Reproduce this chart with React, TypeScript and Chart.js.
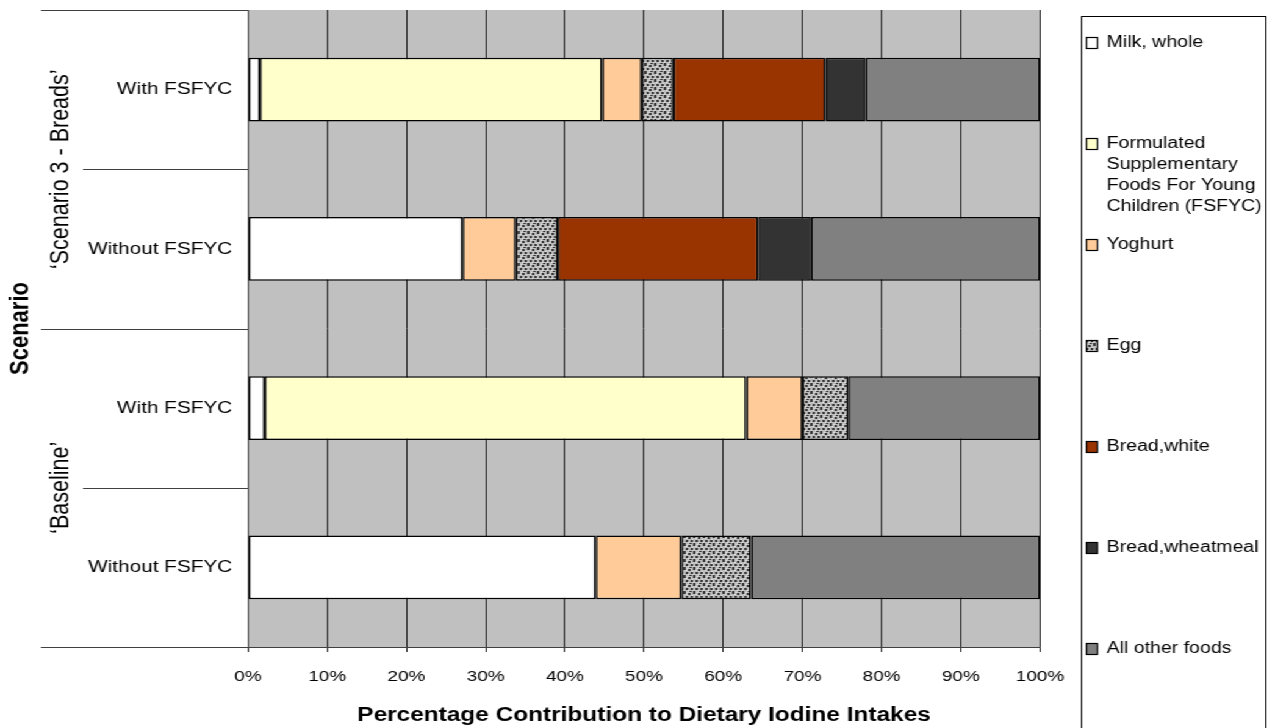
import React, { useEffect, useRef } from "react";
import { Chart, registerables } from "chart.js";

Chart.register(...registerables);

// The chart is laid out on a 1045px-wide canvas and shown stretched to 1275px.
const CANVAS_W = 1045;
const CANVAS_H = 728;
const STRETCH = 1275 / CANVAS_W;

const FONT = "'Liberation Sans', Arial, Helvetica, sans-serif";

// Rows, top to bottom
const categories = ["With FSFYC", "Without FSFYC", "With FSFYC", "Without FSFYC"];
const groupNames = ["\u2018Scenario 3 - Breads\u2019", "\u2018Baseline\u2019"];
const groupSizes = [2, 2];

// Percentage contribution of each food to dietary iodine intake
const milkWhole = [1.5, 27.1, 2.1, 43.9];
const fsfyc = [43.2, 0, 60.8, 0];
const yoghurt = [5.0, 6.7, 7.1, 10.8];
const egg = [4.0, 5.3, 5.8, 8.8];
const breadWhite = [19.2, 25.3, 0, 0];
const breadWheatmeal = [5.1, 6.7, 0, 0];
const allOtherFoods = [22.0, 28.9, 24.2, 36.5];

const seriesNames = [
  "Milk, whole",
  "Formulated Supplementary Foods For Young Children (FSFYC)",
  "Yoghurt",
  "Egg",
  "Bread,white",
  "Bread,wheatmeal",
  "All other foods",
];
const seriesValues = [milkWhole, fsfyc, yoghurt, egg, breadWhite, breadWheatmeal, allOtherFoods];
const seriesColors = ["#FFFFFF", "#FFFFCC", "#FFCC99", "pattern", "#993300", "#333333", "#808080"];

const xMin = 0;
const xMax = 100;
const xStep = 10;
const xTitle = "Percentage Contribution to Dietary Iodine Intakes";
const yTitle = "Scenario";

// speckled grey fill used for the egg series
function makeEggPattern(ctx: CanvasRenderingContext2D): CanvasPattern | string {
  const tile = document.createElement("canvas");
  tile.width = 8;
  tile.height = 8;
  const g = tile.getContext("2d");
  if (!g) return "#a0a0a0";
  g.fillStyle = "#bdbdbd";
  g.fillRect(0, 0, 8, 8);
  g.fillStyle = "#e4e4e4";
  [[3, 0], [7, 3], [0, 6], [4, 6], [2, 2], [6, 7]].forEach(([x, y]) => g.fillRect(x, y, 1, 1));
  g.fillStyle = "#383838";
  [[0, 0], [4, 1], [2, 4], [6, 4], [0, 7], [5, 7]].forEach(([x, y]) => g.fillRect(x, y, 2, 2));
  return ctx.createPattern(tile, "repeat") || "#a0a0a0";
}

function wrapText(ctx: CanvasRenderingContext2D, text: string, maxWidth: number): string[] {
  const words = text.split(" ");
  const lines: string[] = [];
  let cur = "";
  for (const w of words) {
    const test = cur ? cur + " " + w : w;
    if (cur && ctx.measureText(test).width > maxWidth) {
      lines.push(cur);
      cur = w;
    } else {
      cur = test;
    }
  }
  if (cur) lines.push(cur);
  return lines;
}

const decorPlugin = {
  id: "decor",
  beforeDraw(chart: any) {
    const { ctx, chartArea: a } = chart;
    ctx.save();
    ctx.fillStyle = "#C0C0C0";
    ctx.fillRect(a.left, a.top, a.right - a.left, a.bottom - a.top);
    ctx.restore();
  },
  afterDraw(chart: any) {
    const { ctx, chartArea: a } = chart;
    const yScale = chart.scales.y;
    const n = categories.length;
    const bound = (i: number) =>
      i === 0 ? a.top : i === n ? a.bottom : (yScale.getPixelForValue(i - 1) + yScale.getPixelForValue(i)) / 2;

    const groupEdges = [0];
    let acc = 0;
    groupSizes.forEach((s) => {
      acc += s;
      groupEdges.push(acc);
    });

    ctx.save();
    // category divider lines to the left of the plot
    ctx.strokeStyle = "#404040";
    ctx.lineWidth = 1;
    for (let i = 0; i <= n; i++) {
      const outer = groupEdges.includes(i);
      const x0 = outer ? 33.6 : 68;
      const yy = Math.round(bound(i)) + 0.5;
      ctx.beginPath();
      ctx.moveTo(x0, yy);
      ctx.lineTo(a.left, yy);
      ctx.stroke();
    }

    // group labels, rotated
    ctx.fillStyle = "#000";
    ctx.textAlign = "center";
    ctx.textBaseline = "middle";
    ctx.font = `21.5px ${FONT}`;
    groupNames.forEach((name, gi) => {
      const yc = (bound(groupEdges[gi]) + bound(groupEdges[gi + 1])) / 2;
      ctx.save();
      ctx.translate(50.5, yc);
      ctx.rotate(-Math.PI / 2);
      ctx.fillText(name, 0, 0);
      ctx.restore();
    });

    // y-axis title
    ctx.font = `bold 22px ${FONT}`;
    ctx.save();
    ctx.translate(16.5, (a.top + a.bottom) / 2);
    ctx.rotate(-Math.PI / 2);
    ctx.fillText(yTitle, 0, 0);
    ctx.restore();

    // x-axis title
    ctx.font = `bold 20px ${FONT}`;
    ctx.fillText(xTitle, (a.left + a.right) / 2, 715);

    // legend
    const lx = 886.5;
    const lr = 1037.5;
    ctx.strokeStyle = "#000";
    ctx.strokeRect(lx, 16.5, lr - lx, CANVAS_H + 20);
    ctx.font = `16px ${FONT}`;
    ctx.textAlign = "left";
    const datasets = chart.data.datasets;
    datasets.forEach((ds: any, i: number) => {
      const y0 = 43 + i * 101;
      ctx.fillStyle = ds.backgroundColor;
      ctx.fillRect(890, y0 - 5, 9, 11);
      ctx.strokeStyle = "#000";
      ctx.lineWidth = 1.2;
      ctx.strokeRect(890.5, y0 - 5.5, 9, 11);
      ctx.fillStyle = "#000";
      const lines = wrapText(ctx, ds.label, 131);
      lines.forEach((ln, k) => ctx.fillText(ln, 907, y0 + k * 21));
    });
    ctx.restore();
  },
};

export default function App() {
  const canvasRef = useRef<HTMLCanvasElement | null>(null);

  useEffect(() => {
    const canvas = canvasRef.current;
    if (!canvas) return;
    const ctx = canvas.getContext("2d");
    if (!ctx) return;
    const eggPattern = makeEggPattern(ctx);

    const datasets = seriesNames.map((name, i) => ({
      label: name,
      data: seriesValues[i].map((v) => (v === 0 ? null : v)),
      backgroundColor: seriesColors[i] === "pattern" ? eggPattern : seriesColors[i],
      borderColor: "#000000",
      borderWidth: 1.5,
      borderSkipped: false as const,
      barPercentage: 0.4,
      categoryPercentage: 1,
    }));

    const chart = new Chart(ctx, {
      type: "bar",
      data: { labels: categories, datasets: datasets as any },
      options: {
        indexAxis: "y",
        responsive: false,
        devicePixelRatio: 1,
        animation: false,
        layout: { padding: { top: 10, right: CANVAS_W - 852.4, bottom: 0, left: 0 } },
        plugins: {
          legend: { display: false },
          tooltip: { enabled: false },
        },
        scales: {
          x: {
            stacked: true,
            min: xMin,
            max: xMax,
            afterFit: (scale: any) => {
              scale.height = CANVAS_H - 647;
              scale.paddingLeft = 0;
              scale.paddingRight = 0;
            },
            ticks: {
              stepSize: xStep,
              callback: (v: any) => `${v}%`,
              color: "#000",
              font: { family: FONT, size: 15.5 },
              padding: 15,
              maxRotation: 0,
            },
            grid: {
              color: "#222222",
              lineWidth: 1,
              tickLength: 5,
              drawTicks: true,
            },
            border: { display: true, color: "#404040", width: 1 },
          },
          y: {
            stacked: true,
            afterFit: (scale: any) => {
              scale.width = 203.3;
              scale.paddingTop = 0;
              scale.paddingBottom = 0;
            },
            ticks: {
              color: "#000",
              font: { family: FONT, size: 17 },
              padding: 13,
              autoSkip: false,
            },
            grid: { display: false, drawTicks: false },
            border: { display: true, color: "#505050", width: 1 },
          },
        },
      },
      plugins: [decorPlugin],
    });

    return () => chart.destroy();
  }, []);

  return (
    <div
      style={{
        position: "fixed",
        left: 0,
        top: 0,
        width: CANVAS_W,
        height: CANVAS_H,
        transform: `scaleX(${STRETCH})`,
        transformOrigin: "0 0",
        background: "#fff",
      }}
    >
      <canvas ref={canvasRef} width={CANVAS_W} height={CANVAS_H} />
    </div>
  );
}
